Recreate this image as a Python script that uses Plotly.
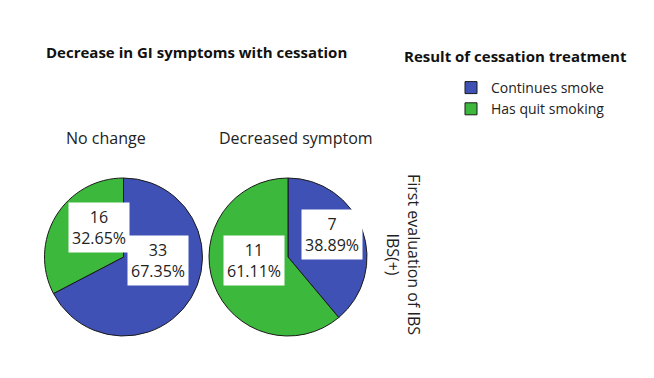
import plotly.graph_objects as go

W, H = 654, 378
OFF = 8  # page body margin

# ---- data ----
series_names = ["Continues smoke", "Has quit smoking"]
panel_titles = ["No change", "Decreased symptom"]
no_change_counts = [33, 16]
decreased_counts = [7, 11]
colors = ["#3F51B5", "#3CB93C"]

main_title = "Decrease in GI symptoms with cessation"
legend_title = "Result of cessation treatment"
row_title = "First evaluation of IBS<br>IBS(+)"

FONT = "Open Sans"

def px_x(x):
    return (x - OFF) / W

def px_y(y):
    return 1 - (y - OFF) / H

# layout (pixel geometry, page coordinates)
R = 79
centers = [(123.5, 257), (288, 257)]
title_x = [106, 295.5]
# label box offsets from pie centre (dx, dy in px) per slice
label_offsets = [
    [(34, 3), (-25, -30)],   # no change: blue, green
    [(44, -23), (-34, 3)],   # decreased: blue, green
]

fig = go.Figure()
annotations = []
for i, (counts, (cx, cy)) in enumerate(zip([no_change_counts, decreased_counts], centers)):
    fig.add_trace(go.Pie(
        labels=series_names,
        values=counts,
        marker=dict(colors=colors, line=dict(color="#1a1a1a", width=1)),
        sort=False,
        direction="clockwise",
        rotation=0,
        textinfo="none",
        hoverinfo="label+value+percent",
        showlegend=(i == 0),
        domain=dict(x=[px_x(cx - R), px_x(cx + R)], y=[px_y(cy + R), px_y(cy - R)]),
    ))
    total = sum(counts)
    for j, v in enumerate(counts):
        dx, dy = label_offsets[i][j]
        annotations.append(dict(
            x=px_x(cx + dx), y=px_y(cy + dy), xref="paper", yref="paper",
            text=f"{v}<br>{100 * v / total:.2f}%",
            showarrow=False, bgcolor="white", borderpad=3,
            font=dict(family=FONT, size=16, color="#222"),
            xanchor="center", yanchor="middle",
        ))
    annotations.append(dict(
        x=px_x(title_x[i]), y=px_y(138), xref="paper", yref="paper",
        text=panel_titles[i], showarrow=False,
        font=dict(family=FONT, size=16, color="#222"),
        xanchor="center", yanchor="middle",
    ))

annotations.append(dict(
    x=px_x(44), y=px_y(52), xref="paper", yref="paper", text=f"<b>{main_title}</b>",
    showarrow=False, xanchor="left", yanchor="middle",
    font=dict(family=FONT, size=15, color="#111"),
))
annotations.append(dict(
    x=px_x(402), y=px_y(56), xref="paper", yref="paper", text=f"<b>{legend_title}</b>",
    showarrow=False, xanchor="left", yanchor="middle",
    font=dict(family=FONT, size=15, color="#111"),
))
annotations.append(dict(
    x=px_x(404), y=px_y(254), xref="paper", yref="paper", text=row_title,
    showarrow=False, xanchor="center", yanchor="middle", textangle=90,
    font=dict(family=FONT, size=16, color="#222"),
))

fig.update_layout(
    width=W, height=H,
    margin=dict(l=0, r=0, t=0, b=0),
    paper_bgcolor="white", plot_bgcolor="white",
    annotations=annotations,
    legend=dict(
        x=px_x(451), y=px_y(72), xanchor="left", yanchor="top",
        font=dict(family=FONT, size=14, color="#222"),
        tracegroupgap=0, itemwidth=30,
        bgcolor="rgba(0,0,0,0)",
    ),
)

fig.write_html("out.html")
